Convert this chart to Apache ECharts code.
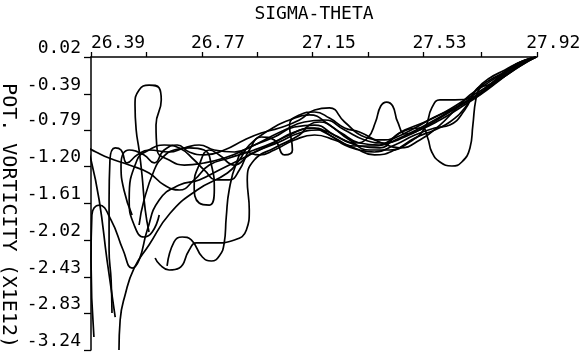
<!DOCTYPE html>
<html>
<head>
<meta charset="utf-8">
<script src="https://cdn.jsdelivr.net/npm/echarts@6/dist/echarts.min.js"></script>
<style>
  html, body { margin: 0; padding: 0; background: #fff; }
  #chart { width: 580px; height: 359px; }
</style>
</head>
<body>
<div id="chart"></div>
<script>
// Potential vorticity against sigma-theta, one trace per profile.
const xTicks = [26.39, 26.58, 26.77, 26.96, 27.15, 27.34, 27.53, 27.73, 27.92];
const xLabels = ['26.39', '26.77', '27.15', '27.53', '27.92'];
const yLabels = ['0.02', '-0.39', '-0.79', '-1.20', '-1.61', '-2.02', '-2.43', '-2.83', '-3.24'];

const profile1 = [[27.917,0.02],[27.879,-0.047],[27.810,-0.191],[27.741,-0.347],[27.672,-0.492],[27.604,-0.625],[27.535,-0.759],[27.466,-0.870],[27.397,-0.937],[27.329,-0.903],[27.260,-0.792],[27.191,-0.681],[27.122,-0.703],[27.054,-0.792],[26.985,-0.903],[26.916,-1.015],[26.847,-1.104],[26.778,-1.159],[26.710,-1.182],[26.658,-1.126],[26.617,-1.015],[26.613,-0.737],[26.631,-0.458],[26.624,-0.325],[26.589,-0.292],[26.555,-0.347],[26.541,-0.514],[26.545,-0.792],[26.555,-1.015],[26.565,-1.293],[26.576,-1.682],[26.589,-1.927]];
const profile2 = [[27.917,0.02],[27.862,-0.069],[27.793,-0.236],[27.724,-0.403],[27.655,-0.547],[27.587,-0.681],[27.518,-0.792],[27.470,-0.837],[27.442,-0.703],[27.425,-0.525],[27.404,-0.481],[27.384,-0.525],[27.366,-0.703],[27.339,-0.881],[27.294,-0.937],[27.225,-0.848],[27.157,-0.737],[27.088,-0.759],[27.019,-0.870],[26.950,-0.959],[26.882,-1.037],[26.813,-1.015],[26.761,-0.959],[26.710,-0.992],[26.658,-1.037],[26.589,-1.015],[26.548,-1.070],[26.514,-1.159],[26.493,-1.015],[26.473,-0.992],[26.455,-1.126],[26.452,-1.571],[26.452,-2.127],[26.459,-2.461],[26.462,-2.828]];
const profile3 = [[27.917,0.02],[27.869,-0.036],[27.810,-0.147],[27.758,-0.236],[27.724,-0.325],[27.710,-0.458],[27.700,-0.737],[27.690,-0.992],[27.662,-1.148],[27.628,-1.193],[27.587,-1.148],[27.559,-1.037],[27.545,-0.881],[27.525,-0.770],[27.449,-0.826],[27.380,-0.992],[27.311,-0.970],[27.243,-0.881],[27.174,-0.792],[27.105,-0.826],[27.036,-0.926],[26.968,-1.015],[26.899,-1.126],[26.830,-1.237],[26.761,-1.348],[26.693,-1.404],[26.624,-1.571],[26.583,-1.905],[26.555,-2.239],[26.531,-2.328],[26.500,-2.127],[26.459,-1.794],[26.418,-1.627],[26.393,-1.738],[26.390,-2.239],[26.400,-3.095]];
const profile4 = [[27.917,0.02],[27.879,-0.013],[27.827,-0.102],[27.758,-0.292],[27.700,-0.436],[27.638,-0.458],[27.587,-0.458],[27.559,-0.547],[27.535,-0.770],[27.483,-0.926],[27.415,-1.015],[27.346,-1.015],[27.277,-0.903],[27.208,-0.737],[27.139,-0.625],[27.071,-0.681],[27.002,-0.792],[26.933,-0.959],[26.899,-1.126],[26.858,-1.271],[26.754,-1.460],[26.662,-1.716],[26.589,-2.072],[26.538,-2.328],[26.507,-2.628],[26.490,-2.906],[26.486,-3.240]];
const profile5 = [[27.917,0.02],[27.851,-0.058],[27.793,-0.214],[27.724,-0.381],[27.655,-0.514],[27.587,-0.648],[27.518,-0.770],[27.449,-0.881],[27.380,-0.959],[27.311,-0.937],[27.243,-0.814],[27.174,-0.703],[27.139,-0.737],[27.105,-0.848],[27.019,-0.992],[26.950,-1.126],[26.926,-1.348],[26.933,-1.682],[26.923,-1.905],[26.882,-2.016],[26.813,-2.049],[26.751,-2.049],[26.727,-2.127],[26.693,-2.328],[26.658,-2.350],[26.627,-2.294],[26.610,-2.216]];
const profile6 = [[27.917,0.02],[27.862,-0.036],[27.810,-0.125],[27.758,-0.214],[27.717,-0.325],[27.672,-0.547],[27.621,-0.703],[27.569,-0.792],[27.501,-0.881],[27.432,-1.015],[27.363,-1.070],[27.294,-0.992],[27.225,-0.903],[27.157,-0.848],[27.088,-0.903],[27.019,-1.015],[26.968,-1.070],[26.916,-1.037],[26.889,-1.159],[26.864,-1.460],[26.854,-1.760],[26.847,-2.049],[26.830,-2.194],[26.803,-2.250],[26.772,-2.205],[26.734,-2.016],[26.703,-1.983],[26.675,-2.038],[26.651,-2.305]];
const profile7 = [[27.917,0.02],[27.844,-0.102],[27.776,-0.269],[27.707,-0.425],[27.638,-0.547],[27.569,-0.648],[27.501,-0.770],[27.432,-0.881],[27.363,-0.970],[27.294,-0.970],[27.225,-0.881],[27.157,-0.770],[27.088,-0.814],[27.019,-0.926],[26.950,-1.015],[26.864,-1.104],[26.796,-1.182],[26.744,-1.348],[26.693,-1.460],[26.641,-1.404],[26.589,-1.271],[26.521,-1.182],[26.452,-1.104],[26.407,-1.037],[26.373,-0.981],[26.390,-1.126],[26.418,-1.571],[26.445,-2.239],[26.473,-2.873]];
const profile8 = [[27.917,0.02],[27.851,-0.058],[27.793,-0.180],[27.741,-0.292],[27.690,-0.403],[27.638,-0.570],[27.587,-0.737],[27.518,-0.903],[27.449,-0.992],[27.380,-0.926],[27.311,-0.814],[27.260,-0.770],[27.208,-0.659],[27.157,-0.592],[27.105,-0.625],[27.071,-0.737],[27.081,-1.015],[27.054,-1.070],[27.019,-0.903],[26.974,-0.870],[26.933,-1.015],[26.899,-1.237],[26.864,-1.348],[26.823,-1.348],[26.778,-1.237],[26.744,-1.126],[26.693,-0.992],[26.641,-0.959],[26.589,-1.015],[26.548,-1.126],[26.521,-1.571],[26.538,-1.849],[26.572,-1.983],[26.600,-1.927],[26.624,-1.738]];
const profile9 = [[27.917,0.02],[27.862,-0.080],[27.800,-0.214],[27.752,-0.292],[27.717,-0.325],[27.672,-0.570],[27.621,-0.737],[27.569,-0.770],[27.501,-0.848],[27.432,-0.959],[27.363,-1.037],[27.311,-1.015],[27.260,-0.959],[27.208,-0.848],[27.139,-0.770],[27.071,-0.848],[27.002,-0.959],[26.933,-1.070],[26.882,-1.182],[26.830,-1.070],[26.796,-1.015],[26.761,-1.182],[26.744,-1.404],[26.761,-1.604],[26.796,-1.627],[26.813,-1.460],[26.803,-1.182],[26.778,-1.015],[26.727,-0.992],[26.675,-1.015],[26.634,-1.104],[26.607,-1.237],[26.572,-1.571],[26.555,-1.849]];
const profile10 = [[27.917,0.02],[27.869,-0.047],[27.810,-0.158],[27.741,-0.325],[27.672,-0.458],[27.604,-0.592],[27.535,-0.703],[27.466,-0.792],[27.397,-0.903],[27.329,-0.870],[27.260,-0.703],[27.208,-0.547],[27.157,-0.570],[27.105,-0.681],[27.036,-0.770],[26.974,-0.826],[26.916,-0.903],[26.847,-1.015],[26.778,-1.070],[26.727,-1.037],[26.686,-0.959],[26.641,-1.015],[26.607,-1.159],[26.572,-1.070],[26.521,-1.015],[26.493,-1.182],[26.503,-1.460],[26.531,-1.738]];

const profiles = [profile1, profile2, profile3, profile4, profile5, profile6, profile7, profile8, profile9, profile10];

const FONT = 'DejaVu Sans Mono';
const xLabelVals = xLabels.map(Number);
const yLabelVals = yLabels.map(Number);
const nearest = (vals, v) => {
  let best = 0;
  vals.forEach((t, k) => { if (Math.abs(t - v) < Math.abs(vals[best] - v)) best = k; });
  return best;
};

const chart = echarts.init(document.getElementById('chart'), null, { renderer: 'canvas' });
chart.setOption({
  animation: false,
  backgroundColor: '#fff',
  grid: { left: 91, right: 43, top: 57, bottom: 9, containLabel: false, outerBoundsMode: 'none' },
  xAxis: {
    type: 'value',
    position: 'top',
    min: 26.39,
    max: 27.92,
    name: 'SIGMA-THETA',
    nameLocation: 'middle',
    nameGap: 34,
    nameMoveOverlap: false,
    nameTextStyle: { fontFamily: FONT, fontSize: 18, color: '#000' },
    axisLine: { onZero: false, lineStyle: { color: '#000', width: 1.5 } },
    axisTick: { show: true, inside: false, length: 5, customValues: xTicks, lineStyle: { color: '#000', width: 1.3 } },
    axisLabel: {
      customValues: xLabelVals,
      hideOverlap: false,
      showMinLabel: true,
      showMaxLabel: true,
      margin: 5,
      fontFamily: FONT,
      fontSize: 18,
      color: '#000',
      formatter: (v) => {
        const k = nearest(xLabelVals, v);
        return (k === 0 ? '     ' : '   ') + xLabels[k];
      }
    },
    splitLine: { show: false }
  },
  yAxis: {
    type: 'value',
    min: -3.24,
    max: 0.02,
    name: '  POT. VORTICITY (X1E12)',
    nameLocation: 'middle',
    nameRotate: -90,
    nameGap: 73,
    nameMoveOverlap: false,
    nameTextStyle: { fontFamily: FONT, fontSize: 20, color: '#000' },
    axisLine: { onZero: false, lineStyle: { color: '#000', width: 1.5 } },
    axisTick: { show: true, inside: false, length: 7, customValues: yLabelVals, lineStyle: { color: '#000', width: 1.3 } },
    axisLabel: {
      customValues: yLabelVals,
      hideOverlap: false,
      showMinLabel: true,
      showMaxLabel: true,
      margin: 10,
      verticalAlign: 'bottom',
      fontFamily: FONT,
      fontSize: 18,
      color: '#000',
      formatter: (v) => yLabels[nearest(yLabelVals, v)]
    },
    splitLine: { show: false }
  },
  series: profiles.map((p) => ({
    type: 'line',
    data: p,
    smooth: 0.5,
    showSymbol: false,
    clip: true,
    lineStyle: { color: '#000', width: 1.7 }
  }))
});
</script>
</body>
</html>
